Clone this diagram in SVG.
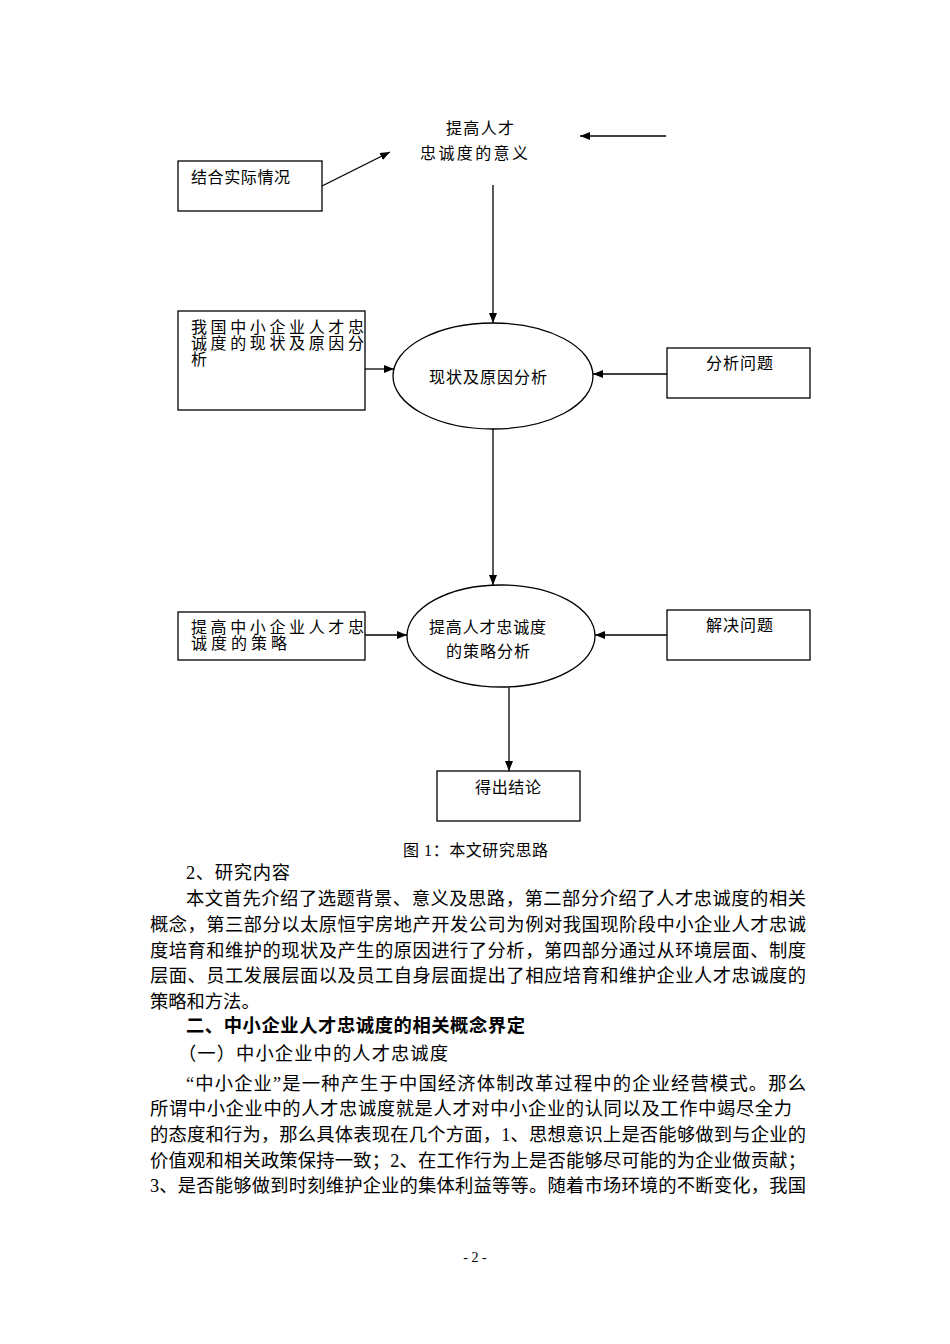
<svg xmlns="http://www.w3.org/2000/svg" width="950" height="1344" viewBox="0 0 950 1344">
<style>
.bx{fill:#fff;stroke:#000;stroke-width:1.3}
.ln{fill:none;stroke:#000;stroke-width:1.3}
.d{font-family:"Liberation Serif","Noto Sans CJK SC",serif;font-size:16px;fill:#000}
.p{font-family:"Liberation Serif","Noto Sans CJK SC",serif;font-size:18.3px;fill:#000}
.b{font-family:"Liberation Serif","Noto Sans CJK SC",serif;font-size:18.3px;font-weight:bold;fill:#000}
</style>
<defs>
<marker id="ah" viewBox="0 0 10 10" refX="10" refY="5" markerWidth="10" markerHeight="10" markerUnits="userSpaceOnUse" orient="auto">
<path d="M0,1 L10,5 L0,9 Z" fill="#000"/>
</marker>
</defs>
<rect width="950" height="1344" fill="#fff"/>
<g id="n-meaning">
<text class="d" x="446" y="134" textLength="68" lengthAdjust="spacing">提高人才</text>
<text class="d" x="420" y="159" textLength="108" lengthAdjust="spacing">忠诚度的意义</text>
</g>
<g id="n-actual">
<rect class="bx" x="178" y="161" width="144" height="50"/>
<text class="d" x="191" y="183" textLength="99" lengthAdjust="spacing">结合实际情况</text>
</g>
<g id="n-status-box">
<rect class="bx" x="178" y="311" width="187" height="99"/>
<text class="d" x="191" y="333" textLength="173" lengthAdjust="spacing">我国中小企业人才忠</text>
<text class="d" x="191" y="349" textLength="173" lengthAdjust="spacing">诚度的现状及原因分</text>
<text class="d" x="191" y="365">析</text>
</g>
<g id="n-status">
<ellipse class="bx" cx="493" cy="376" rx="100" ry="53"/>
<text class="d" x="429" y="383" textLength="118" lengthAdjust="spacing">现状及原因分析</text>
</g>
<g id="n-analyze">
<rect class="bx" x="667" y="348" width="143" height="50"/>
<text class="d" x="706" y="369" textLength="67" lengthAdjust="spacing">分析问题</text>
</g>
<g id="n-strategy-box">
<rect class="bx" x="178" y="612" width="187" height="48"/>
<text class="d" x="191" y="633" textLength="173" lengthAdjust="spacing">提高中小企业人才忠</text>
<text class="d" x="191" y="649" textLength="96" lengthAdjust="spacing">诚度的策略</text>
</g>
<g id="n-strategy">
<ellipse class="bx" cx="501" cy="636" rx="94" ry="51"/>
<text class="d" x="429" y="633" textLength="117" lengthAdjust="spacing">提高人才忠诚度</text>
<text class="d" x="446" y="657" textLength="84" lengthAdjust="spacing">的策略分析</text>
</g>
<g id="n-solve">
<rect class="bx" x="667" y="610" width="143" height="50"/>
<text class="d" x="706" y="631" textLength="67" lengthAdjust="spacing">解决问题</text>
</g>
<g id="n-conclusion">
<rect class="bx" x="437" y="771" width="143" height="50"/>
<text class="d" x="475" y="793" textLength="66" lengthAdjust="spacing">得出结论</text>
</g>
<g id="connectors">
<line class="ln" x1="322" y1="186" x2="390" y2="152" marker-end="url(#ah)"/>
<line class="ln" x1="666" y1="136" x2="580" y2="136" marker-end="url(#ah)"/>
<line class="ln" x1="493" y1="185" x2="493" y2="323" marker-end="url(#ah)"/>
<line class="ln" x1="365" y1="369" x2="394" y2="369" marker-end="url(#ah)"/>
<line class="ln" x1="667" y1="374" x2="593" y2="374" marker-end="url(#ah)"/>
<line class="ln" x1="493" y1="429" x2="493" y2="585" marker-end="url(#ah)"/>
<line class="ln" x1="365" y1="635" x2="407" y2="635" marker-end="url(#ah)"/>
<line class="ln" x1="667" y1="635" x2="595" y2="635" marker-end="url(#ah)"/>
<line class="ln" x1="509" y1="687" x2="509" y2="771" marker-end="url(#ah)"/>
</g>
<g id="caption">
<text class="d" x="403" y="856" textLength="145" lengthAdjust="spacing">图 1：本文研究思路</text>
</g>
<g id="body">
<text class="p" x="186" y="879" textLength="104" lengthAdjust="spacing">2、研究内容</text>
<text class="p" x="186" y="905" textLength="620" lengthAdjust="spacing">本文首先介绍了选题背景、意义及思路，第二部分介绍了人才忠诚度的相关</text>
<text class="p" x="150" y="931" textLength="656" lengthAdjust="spacing">概念，第三部分以太原恒宇房地产开发公司为例对我国现阶段中小企业人才忠诚</text>
<text class="p" x="150" y="957" textLength="656" lengthAdjust="spacing">度培育和维护的现状及产生的原因进行了分析，第四部分通过从环境层面、制度</text>
<text class="p" x="150" y="982" textLength="656" lengthAdjust="spacing">层面、员工发展层面以及员工自身层面提出了相应培育和维护企业人才忠诚度的</text>
<text class="p" x="150" y="1008">策略和方法。</text>
<text class="b" x="186" y="1032" textLength="339" lengthAdjust="spacing">二、中小企业人才忠诚度的相关概念界定</text>
<text class="p" x="178" y="1060" textLength="270" lengthAdjust="spacing">（一）中小企业中的人才忠诚度</text>
<text class="p" x="186" y="1090" textLength="620" lengthAdjust="spacing">“中小企业”是一种产生于中国经济体制改革过程中的企业经营模式。那么</text>
<text class="p" x="150" y="1115" textLength="642" lengthAdjust="spacing">所谓中小企业中的人才忠诚度就是人才对中小企业的认同以及工作中竭尽全力</text>
<text class="p" x="150" y="1141" textLength="656" lengthAdjust="spacing">的态度和行为，那么具体表现在几个方面，1、思想意识上是否能够做到与企业的</text>
<text class="p" x="150" y="1167" textLength="656" lengthAdjust="spacing">价值观和相关政策保持一致；2、在工作行为上是否能够尽可能的为企业做贡献；</text>
<text class="p" x="150" y="1192" textLength="656" lengthAdjust="spacing">3、是否能够做到时刻维护企业的集体利益等等。随着市场环境的不断变化，我国</text>
</g>
<g id="page-number">
<text x="475" y="1262" text-anchor="middle" font-family="Liberation Serif,serif" font-size="14">- 2 -</text>
</g>
</svg>
